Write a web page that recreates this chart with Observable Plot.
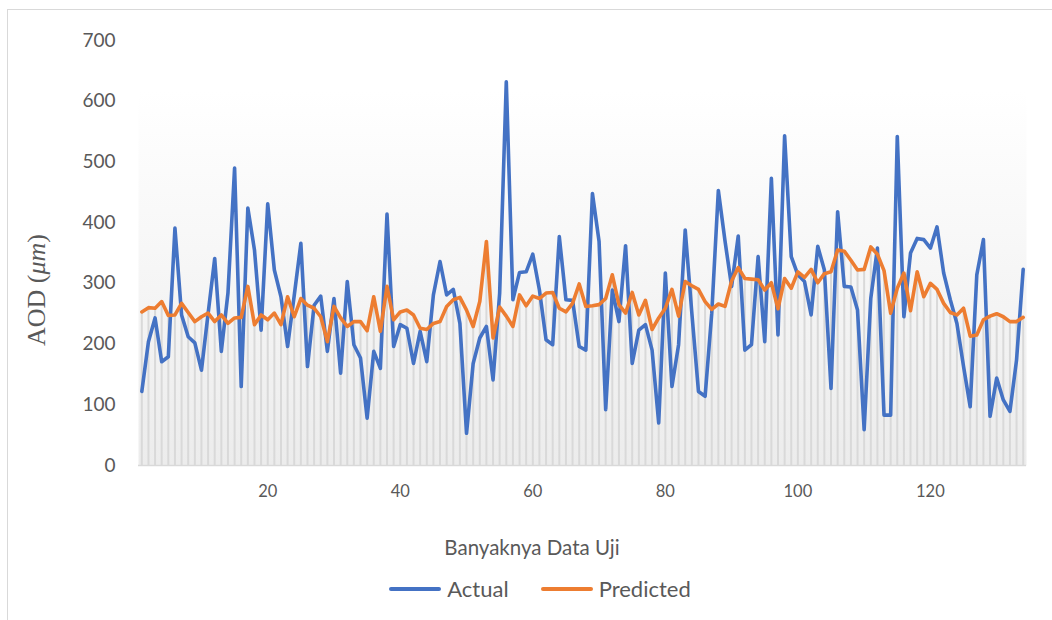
<!DOCTYPE html>
<html>
<head>
<meta charset="utf-8">
<script src="https://cdn.jsdelivr.net/npm/d3@7"></script>
<script src="https://cdn.jsdelivr.net/npm/@observablehq/plot@0.6"></script>
<style>
  html, body { margin: 0; padding: 0; background: #ffffff; }
  #wrap { position: relative; width: 1052px; height: 620px; overflow: hidden; font-family: Lato, "Open Sans", sans-serif; }
  #border { position: absolute; left: 7px; top: 9px; width: 1060px; height: 700px; border-top: 1px solid #d9d9d9; border-left: 1px solid #d9d9d9; }
  #chart { position: absolute; left: 0; top: 0; }
  #xtitle { position: absolute; top: 535px; left: 0; width: 1064px; text-align: center; font-size: 20.5px; color: #595959; }
  #legend { position: absolute; top: 575px; left: 0; width: 1080px; display: flex; justify-content: center; align-items: center; font-size: 22px; color: #595959; }
  .item { display: flex; align-items: center; margin: 0 16px; }
  .swatch { width: 52px; height: 4px; border-radius: 2px; margin-right: 6px; }
</style>
</head>
<body>
<div id="wrap">
  <div id="border"></div>
  <div id="chart"></div>
  <div id="xtitle">Banyaknya Data Uji</div>
  <div id="legend"></div>
</div>
<script>
const actual = [122,204,243,171,179,391,248,212,202,157,250,341,188,284,490,130,424,355,223,431,322,278,196,280,366,163,264,279,188,275,152,303,199,177,78,188,160,414,196,232,226,168,221,171,281,336,281,290,234,53,168,210,229,141,284,632,273,318,319,348,289,207,199,377,273,272,196,190,448,369,92,289,237,362,168,223,232,190,70,317,130,199,388,251,122,114,250,453,370,295,378,190,199,344,204,473,215,543,344,314,303,248,361,322,127,418,295,294,256,59,275,358,83,83,542,245,350,374,372,358,393,317,273,234,163,97,314,372,81,144,108,89,174,323];
const predicted = [253,260,259,270,247,248,267,252,237,245,251,237,248,234,243,244,295,232,248,240,251,232,278,245,275,264,259,245,204,262,243,229,237,237,222,278,221,295,240,253,256,248,226,224,234,237,262,273,277,256,229,270,369,210,261,246,229,281,263,279,275,284,285,259,253,267,299,262,263,265,275,314,265,251,285,248,272,224,243,259,290,246,303,296,290,270,257,266,262,304,326,308,307,306,289,301,258,308,292,319,310,323,301,316,319,355,353,338,322,323,360,348,321,251,292,317,255,319,278,300,290,267,252,248,259,213,215,240,246,250,245,237,237,244];
const seriesNames = ["Actual", "Predicted"];
const seriesColors = ["#4472C4", "#ED7D31"];
const xTicks = [20, 40, 60, 80, 100, 120];
const yTicks = [0, 100, 200, 300, 400, 500, 600, 700];

const rows = actual.map((a, k) => ({i: k + 1, actual: a, predicted: predicted[k]}));

const chart = Plot.plot({
  width: 1052,
  height: 510,
  marginTop: 40,
  marginBottom: 45,
  marginLeft: 138,
  marginRight: 26,
  style: {fontFamily: "Lato, 'Open Sans', sans-serif", fontSize: "19px", color: "#595959", background: "transparent"},
  x: {domain: [0.5, actual.length + 0.5]},
  y: {domain: [0, 700]},
  marks: [
    Plot.frame({fill: "url(#plotbg)", stroke: "none"}),
    Plot.ruleX(rows, {x: "i", y1: 0, y2: "predicted", stroke: "#d9d9d9", strokeWidth: 2}),
    Plot.ruleY([0], {stroke: "#d9d9d9", strokeWidth: 1.5}),
    Plot.axisY({ticks: yTicks, tickSize: 0, tickPadding: 23, label: null}),
    Plot.axisX({ticks: xTicks, tickSize: 0, tickPadding: 20, label: null}),
    Plot.line(rows, {x: "i", y: "actual", stroke: seriesColors[0], strokeWidth: 3.6, strokeLinejoin: "round", strokeLinecap: "round"}),
    Plot.line(rows, {x: "i", y: "predicted", stroke: seriesColors[1], strokeWidth: 3.6, strokeLinejoin: "round", strokeLinecap: "round"})
  ]
});

const svg = d3.select(chart);
const defs = svg.insert("defs", ":first-child");
const grad = defs.append("linearGradient").attr("id", "plotbg").attr("x1", 0).attr("y1", 0).attr("x2", 0).attr("y2", 1);
grad.append("stop").attr("offset", "0%").attr("stop-color", "#ffffff");
grad.append("stop").attr("offset", "12%").attr("stop-color", "#ffffff");
grad.append("stop").attr("offset", "100%").attr("stop-color", "#ececec");

svg.selectAll('g[aria-label="x-axis tick label"] text').style("font-size", "16.5px");

const ylab = svg.append("text")
  .attr("transform", "translate(45,290) rotate(-90)")
  .attr("text-anchor", "middle")
  .attr("fill", "#595959")
  .style("font-family", "'Liberation Serif', 'DejaVu Serif', serif")
  .style("font-size", "26px");
ylab.append("tspan").text("AOD (");
ylab.append("tspan").style("font-style", "italic").text("μm");
ylab.append("tspan").text(")");

document.getElementById("chart").appendChild(chart);

const legend = document.getElementById("legend");
seriesNames.forEach((name, k) => {
  const item = document.createElement("div");
  item.className = "item";
  const sw = document.createElement("div");
  sw.className = "swatch";
  sw.style.background = seriesColors[k];
  const label = document.createElement("span");
  label.textContent = name;
  item.appendChild(sw);
  item.appendChild(label);
  legend.appendChild(item);
});
</script>
</body>
</html>
